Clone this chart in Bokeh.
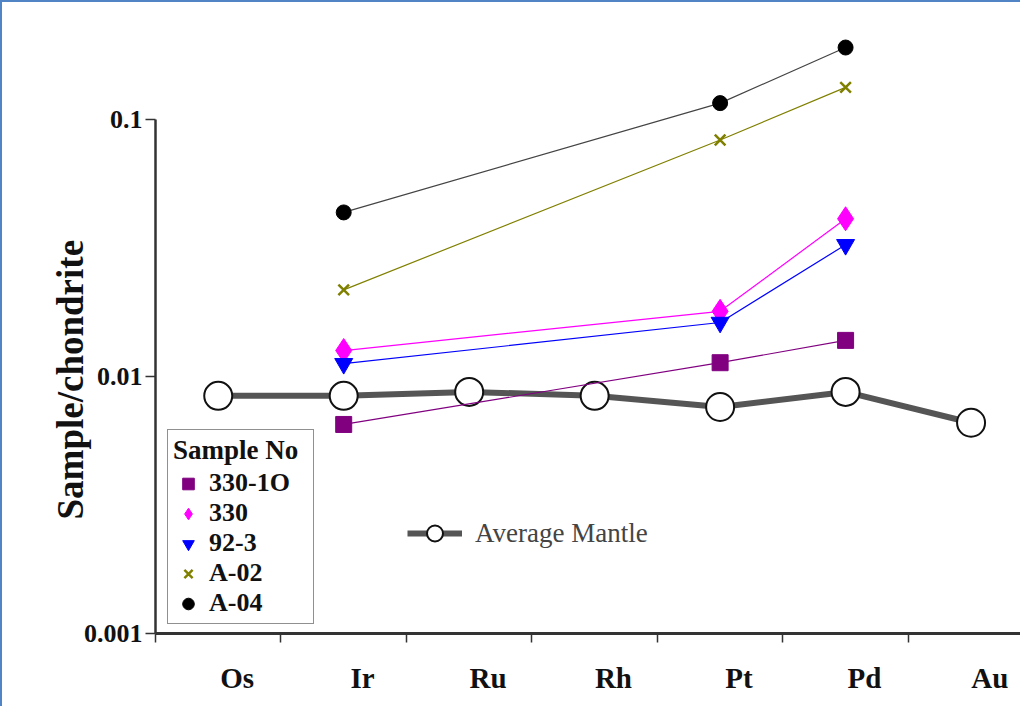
from bokeh.plotting import figure
from bokeh.models import (Range1d, FixedTicker, CustomJSTickFormatter, Legend, LegendItem, Title)
from bokeh.embed import file_html
from bokeh.resources import INLINE

# ---- data ----
elements = ["Os", "Ir", "Ru", "Rh", "Pt", "Pd", "Au"]
mantle = [0.0084, 0.0084, 0.0087, 0.0084, 0.0076, 0.0087, 0.0066]
sample_elements = ["Ir", "Pt", "Pd"]
s330_1o = [0.0065, 0.0113, 0.0138]
s330 = [0.0126, 0.0179, 0.0410]
s92_3 = [0.0112, 0.0162, 0.0325]
a02 = [0.0217, 0.0830, 0.133]
a04 = [0.0434, 0.1155, 0.190]
y_ticks = [0.001, 0.01, 0.1]

xpos = {e: i + 1 for i, e in enumerate(elements)}
mx = [xpos[e] for e in elements]
sx = [xpos[e] for e in sample_elements]

SERIF = "Liberation Serif"
LABEL_SHIFT = 0.15

p = figure(width=1020, height=706, y_axis_type="log",
           x_range=Range1d(0.5, 7.41), y_range=Range1d(0.001, 0.26),
           output_backend="svg", toolbar_location=None,
           min_border_left=153, min_border_right=0, min_border_top=10,
           min_border_bottom=75)
p.styles = {"border-left": "2px solid #5084c4", "border-top": "2px solid #5084c4"}
p.outline_line_color = None
p.xgrid.visible = False
p.ygrid.visible = False

# average mantle
ml = p.line(mx, mantle, line_color="#555555", line_width=6)
mc = p.scatter(mx, mantle, marker="circle", size=28, fill_color="white",
               line_color="#111111", line_width=2)

series = [
    ("330-1O", s330_1o, "#800080", "square", 16),
    ("330", s330, "#ff00ff", "diamond", 24),
    ("92-3", s92_3, "#0000ff", "inverted_triangle", 18),
    ("A-02", a02, "#808000", "x", 15),
    ("A-04", a04, "#000000", "circle", 15),
]
items = []
for name, ys, col, mk, sz in series:
    lc = "#444444" if col == "#000000" else col
    p.line(sx, ys, line_color=lc, line_width=1.2)
    if mk == "x":
        r = p.scatter(sx, ys, marker=mk, size=sz, line_color=col, line_width=2.5)
    else:
        r = p.scatter(sx, ys, marker=mk, size=sz, fill_color=col, line_color=col)
    items.append(LegendItem(label=name, renderers=[r]))

# axes
xa = p.xaxis[0]
xa.ticker = FixedTicker(ticks=[i + 1 + LABEL_SHIFT for i in range(len(elements))],
                        minor_ticks=[i + 0.5 for i in range(len(elements) + 1)])
xa.formatter = CustomJSTickFormatter(args=dict(names=elements, shift=LABEL_SHIFT),
                                     code="return names[Math.round(tick - shift) - 1] || ''")
xa.major_tick_out = 0
xa.major_tick_in = 0
xa.minor_tick_out = 9
xa.minor_tick_in = 0
xa.minor_tick_line_color = "#333333"
xa.minor_tick_line_width = 1.5
xa.axis_line_width = 3
xa.axis_line_color = "#333333"
xa.major_label_standoff = 19
xa.major_label_text_font = SERIF
xa.major_label_text_font_style = "bold"
xa.major_label_text_font_size = "29px"
xa.major_label_text_color = "#111111"

ya = p.yaxis[0]
ya.bounds = (0.001, 0.1)
ya.ticker = FixedTicker(ticks=y_ticks, minor_ticks=[])
ya.formatter = CustomJSTickFormatter(code="return String(tick)")
ya.major_tick_out = 10
ya.major_tick_in = 0
ya.major_tick_line_width = 1.5
ya.major_tick_line_color = "#333333"
ya.axis_line_width = 2.5
ya.axis_line_color = "#333333"
ya.major_label_standoff = 3
ya.major_label_text_font = SERIF
ya.major_label_text_font_style = "bold"
ya.major_label_text_font_size = "26px"
ya.major_label_text_color = "#111111"

# y-axis title, centred on the drawn axis line (0.001 .. 0.1)
ytitle = Title(text="Sample/chondrite", align="left", offset=114,
               vertical_align="bottom", standoff=-20,
               text_font=SERIF, text_font_style="bold", text_font_size="37px",
               text_color="#111111")
p.add_layout(ytitle, "left")

leg = Legend(items=items, location=(12, 9), title="Sample No",
             title_text_font=SERIF, title_text_font_style="bold",
             title_text_font_size="27px", title_text_color="#111111",
             title_standoff=2,
             label_text_font=SERIF, label_text_font_style="bold",
             label_text_font_size="26px", label_text_color="#111111",
             glyph_width=30, glyph_height=29, label_height=29, label_width=99,
             spacing=0, padding=5, margin=0, label_standoff=6,
             border_line_color="#222222", border_line_width=1.5,
             background_fill_color="white", background_fill_alpha=1)
p.add_layout(leg, "center")

leg2 = Legend(items=[LegendItem(label="Average Mantle", renderers=[ml, mc])],
              location=(252, 80), glyph_width=55, glyph_height=40, label_height=40,
              padding=0, margin=0, label_standoff=13,
              label_text_font=SERIF, label_text_font_size="27px",
              label_text_color="#444444", border_line_color=None,
              background_fill_alpha=0)
p.add_layout(leg2, "center")

open("out.html", "w").write(file_html(p, INLINE))
